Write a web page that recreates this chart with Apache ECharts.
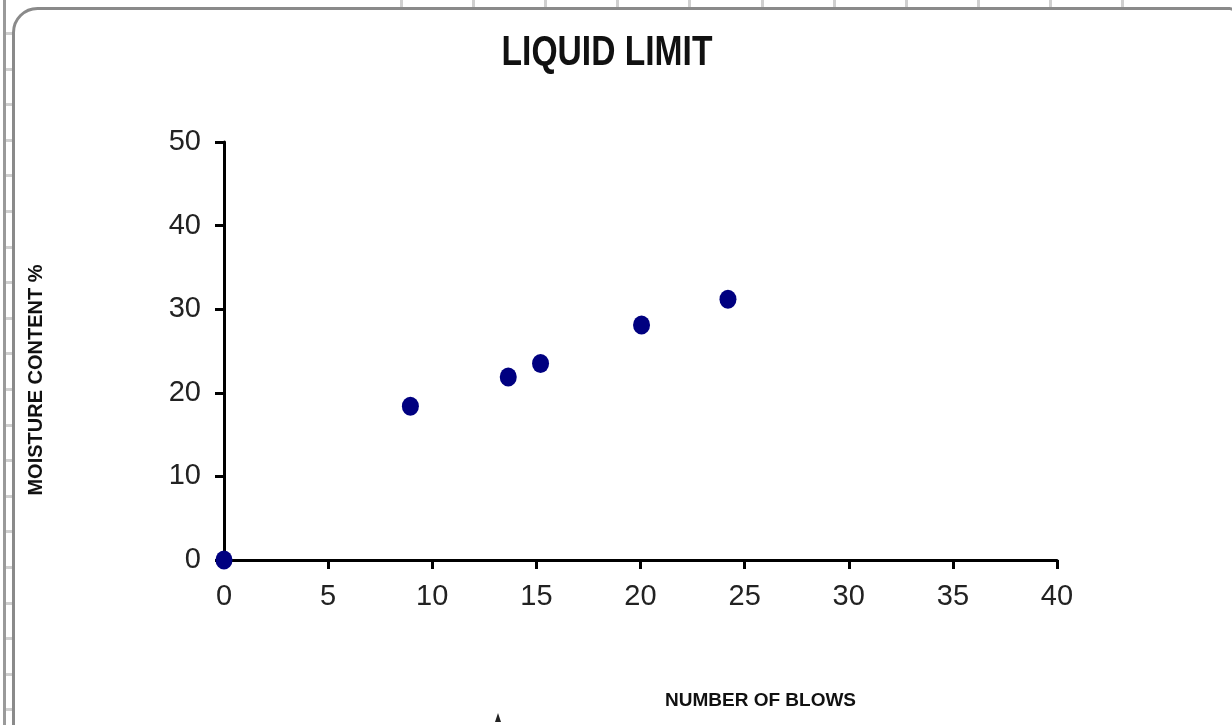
<!DOCTYPE html>
<html>
<head>
<meta charset="utf-8">
<script src="https://cdn.jsdelivr.net/npm/echarts@6/dist/echarts.min.js"></script>
<style>
html,body{margin:0;padding:0;background:#fff;}
#chart{width:1232px;height:725px;}
</style>
</head>
<body>
<div id="chart"></div>
<script>
const titleText = 'LIQUID LIMIT';
const xAxisTitle = 'NUMBER OF BLOWS';
const yAxisTitle = 'MOISTURE CONTENT %';
const blows = [0, 8.95, 13.65, 15.2, 20.05, 24.2];
const moisture = [0, 18.4, 21.9, 23.5, 28.1, 31.2];
const xTicks = {min: 0, max: 40, interval: 5};
const yTicks = {min: 0, max: 50, interval: 10};

const chart = echarts.init(document.getElementById('chart'), null, {renderer: 'canvas'});

const deco = [];
// outer spreadsheet left column line
deco.push({type: 'rect', z: -20, silent: true, shape: {x: 3, y: 0, width: 3, height: 725}, style: {fill: '#9a9a9a'}});
for (let y = 33; y < 725; y += 35.6) {
  deco.push({type: 'line', z: -20, silent: true, shape: {x1: 6, y1: Math.round(y) + 0.5, x2: 13, y2: Math.round(y) + 0.5}, style: {stroke: '#cfcfcf', lineWidth: 3}});
}
for (let x = 401; x < 1160; x += 72.1) {
  deco.push({type: 'line', z: -20, silent: true, shape: {x1: Math.round(x) + 0.5, y1: 0, x2: Math.round(x) + 0.5, y2: 8}, style: {stroke: '#d0d0d0', lineWidth: 3}});
}
// chart area border
deco.push({type: 'rect', z: -10, silent: true, shape: {x: 13.5, y: 8.5, width: 1222, height: 732, r: [24, 6, 14, 14]}, style: {fill: '#fff', stroke: '#8a8a8a', lineWidth: 3}});
// title (condensed bold)
deco.push({type: 'text', z: 10, x: 607, y: 53, scaleX: 0.8, style: {text: titleText, font: 'bold 42px "Liberation Sans", Arial, sans-serif', fill: '#111', align: 'center', verticalAlign: 'middle'}});
// small cursor artifact
deco.push({type: 'polygon', z: 10, silent: true, shape: {points: [[498, 713], [495, 722], [501, 722]]}, style: {fill: '#222'}});

chart.setOption({
  animation: false,
  backgroundColor: '#fff',
  graphic: deco,
  grid: {left: 224, right: 175, top: 142, bottom: 165, containLabel: false},
  xAxis: {
    type: 'value', min: xTicks.min, max: xTicks.max, interval: xTicks.interval,
    name: xAxisTitle, nameLocation: 'middle', nameGap: 131,
    nameTextStyle: {fontFamily: '"Liberation Sans", Arial, sans-serif', fontWeight: 'bold', fontSize: 19, color: '#111', padding: [0, 0, 0, 240]},
    axisLine: {show: true, onZero: false, lineStyle: {color: '#000', width: 3}},
    axisTick: {show: true, length: 9, lineStyle: {color: '#000', width: 3}},
    axisLabel: {margin: 22, fontFamily: '"Liberation Sans", Arial, sans-serif', fontSize: 29, color: '#222'},
    splitLine: {show: false}
  },
  yAxis: {
    type: 'value', min: yTicks.min, max: yTicks.max, interval: yTicks.interval,
    name: yAxisTitle, nameLocation: 'middle', nameGap: 178, nameRotate: 90,
    nameTextStyle: {fontFamily: '"Liberation Sans", Arial, sans-serif', fontWeight: 'bold', fontSize: 20, color: '#111', padding: [0, 58, 0, 0]},
    axisLine: {show: true, onZero: false, lineStyle: {color: '#000', width: 3}},
    axisTick: {show: true, length: 9, lineStyle: {color: '#000', width: 3}},
    axisLabel: {margin: 23, fontFamily: '"Liberation Sans", Arial, sans-serif', fontSize: 29, color: '#222'},
    splitLine: {show: false}
  },
  series: [{
    type: 'scatter',
    data: blows.map((b, i) => [b, moisture[i]]),
    symbol: 'circle',
    symbolSize: [17, 19],
    clip: false,
    itemStyle: {color: '#000080', opacity: 1},
    z: 5
  }]
});
</script>
</body>
</html>
